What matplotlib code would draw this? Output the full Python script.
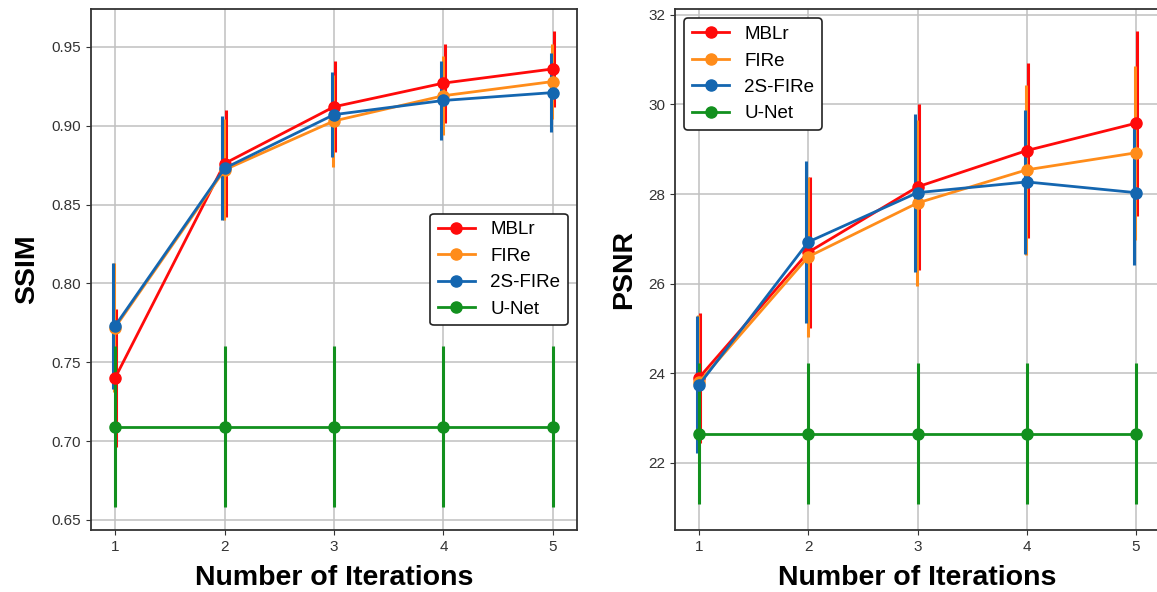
import numpy as np
import matplotlib
matplotlib.use('Agg')
import matplotlib.pyplot as plt

plt.rcParams['font.family'] = ['Liberation Sans', 'DejaVu Sans']

iterations = np.array([1, 2, 3, 4, 5])
methods = ['MBLr', 'FIRe', '2S-FIRe', 'U-Net']
colors = ['#ff0a0a', '#ff8c1a', '#1466b0', '#12901e']
offsets = [0.012, -0.006, -0.02, 0.0]

# SSIM mean / std
ssim_mblr = [0.740, 0.876, 0.912, 0.927, 0.936]
ssim_fire = [0.772, 0.872, 0.903, 0.919, 0.928]
ssim_2s = [0.773, 0.873, 0.907, 0.916, 0.921]
ssim_unet = [0.709, 0.709, 0.709, 0.709, 0.709]
ssim_mblr_sd = [0.044, 0.034, 0.029, 0.025, 0.024]
ssim_fire_sd = [0.041, 0.032, 0.029, 0.025, 0.024]
ssim_2s_sd = [0.040, 0.033, 0.027, 0.025, 0.025]
ssim_unet_sd = [0.051, 0.051, 0.051, 0.051, 0.051]

# PSNR mean / std
psnr_mblr = [23.90, 26.70, 28.16, 28.97, 29.58]
psnr_fire = [23.80, 26.60, 27.80, 28.54, 28.92]
psnr_2s = [23.74, 26.93, 28.03, 28.27, 28.03]
psnr_unet = [22.65, 22.65, 22.65, 22.65, 22.65]
psnr_mblr_sd = [1.45, 1.69, 1.85, 1.96, 2.06]
psnr_fire_sd = [1.50, 1.79, 1.85, 1.90, 1.94]
psnr_2s_sd = [1.53, 1.80, 1.76, 1.60, 1.62]
psnr_unet_sd = [1.58, 1.58, 1.58, 1.58, 1.58]

ssim = [ssim_mblr, ssim_fire, ssim_2s, ssim_unet]
ssim_sd = [ssim_mblr_sd, ssim_fire_sd, ssim_2s_sd, ssim_unet_sd]
psnr = [psnr_mblr, psnr_fire, psnr_2s, psnr_unet]
psnr_sd = [psnr_mblr_sd, psnr_fire_sd, psnr_2s_sd, psnr_unet_sd]

fig = plt.figure(figsize=(11.57, 5.92), dpi=100)
ax1 = fig.add_axes([91/1157, 1-530/592, 486/1157, 521/592])
ax2 = fig.add_axes([675/1157, 1-530/592, 485/1157, 521/592])


def draw(ax, means, sds):
    for name, c, off, m, s in zip(methods, colors, offsets, means, sds):
        ax.errorbar(iterations + off, m, yerr=s, fmt='none', ecolor=c,
                    elinewidth=2.2, capsize=0, zorder=2)
        ax.plot(iterations, m, '-o', color=c, lw=2, markersize=8,
                label=name, zorder=3)
    ax.grid(True, color='#c0c0c0', lw=1.1)
    ax.set_axisbelow(True)
    ax.set_xlim(0.78, 5.22)
    ax.set_xticks(iterations)
    ax.tick_params(labelsize=11, colors='#333333', labelcolor='#333333')
    for sp in ax.spines.values():
        sp.set_color('#333333')
        sp.set_linewidth(1.3)
    ax.set_xlabel('Number of Iterations', fontsize=20.5, fontweight='bold',
                  labelpad=8)


draw(ax1, ssim, ssim_sd)
ax1.set_ylim(0.6436, 0.974)
ax1.set_yticks([0.65, 0.70, 0.75, 0.80, 0.85, 0.90, 0.95])
ax1.set_ylabel('SSIM', fontsize=20.5, fontweight='bold', labelpad=8)
leg1 = ax1.legend(loc='center right', fontsize=13.5, framealpha=1,
                  edgecolor='#222222', fancybox=True)
leg1.get_frame().set_linewidth(1.2)

draw(ax2, psnr, psnr_sd)
ax2.set_ylim(20.5, 32.13)
ax2.set_yticks([22, 24, 26, 28, 30, 32])
ax2.set_ylabel('PSNR', fontsize=20.5, fontweight='bold', labelpad=8)
leg2 = ax2.legend(loc='upper left', fontsize=13.5, framealpha=1,
                  edgecolor='#222222', fancybox=True)
leg2.get_frame().set_linewidth(1.2)

fig.savefig('out.png', dpi=100)
